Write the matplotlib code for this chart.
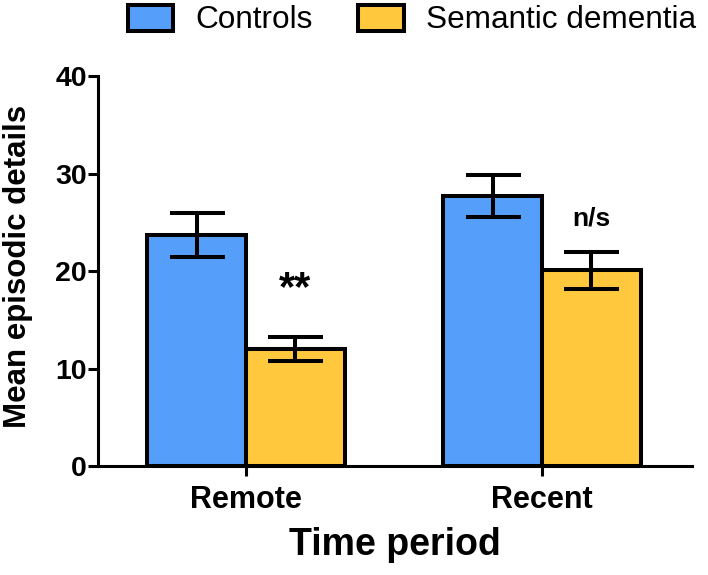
import numpy as np
import matplotlib
matplotlib.use("Agg")
import matplotlib.pyplot as plt
from matplotlib.patches import Patch

# ---------- Data ----------
periods = ["Remote", "Recent"]
controls_mean = [23.7, 27.7]
controls_sem = [2.3, 2.2]
sd_mean = [12.0, 20.1]
sd_sem = [1.2, 1.9]
sig_labels = ["**", "n/s"]
sig_y = [17.0, 24.7]

blue = "#559ffa"
yellow = "#ffc83d"

plt.rcParams["font.family"] = ["Liberation Sans", "DejaVu Sans"]

# ---------- Figure ----------
fig = plt.figure(figsize=(7.08, 5.75), dpi=100)
ax = fig.add_axes([0.1384, 0.1896, 0.839, 0.678])

x = np.arange(len(periods))
w = 0.333

ax.bar(x - w / 2, controls_mean, w, color=blue, edgecolor="black", linewidth=2.9, zorder=2)
ax.bar(x + w / 2, sd_mean, w, color=yellow, edgecolor="black", linewidth=2.9, zorder=2)
ax.errorbar(x - w / 2, controls_mean, yerr=controls_sem, fmt="none", ecolor="black",
            elinewidth=2.9, capsize=19.8, capthick=2.9, zorder=3)
ax.errorbar(x + w / 2, sd_mean, yerr=sd_sem, fmt="none", ecolor="black",
            elinewidth=2.9, capsize=19.8, capthick=2.9, zorder=3)

for i, lab in enumerate(sig_labels):
    ax.text(x[i] + w / 2, sig_y[i], lab, ha="center", va="baseline",
            fontsize=30 if lab == "**" else 19, fontweight="bold", zorder=4)

# ---------- Axes styling ----------
ax.set_xlim(-0.5, 1.507)
ax.set_ylim(0, 40)
ax.set_yticks([0, 10, 20, 30, 40])
ax.set_xticks(x)
ax.set_xticklabels(periods, fontsize=22, fontweight="bold")
for lab in ax.get_yticklabels():
    lab.set_fontsize(20.5)
    lab.set_fontweight("bold")

for s in ["top", "right"]:
    ax.spines[s].set_visible(False)
for s in ["left", "bottom"]:
    ax.spines[s].set_linewidth(2.2)

ax.tick_params(axis="y", length=7, width=2.2, pad=1)
ax.tick_params(axis="x", length=7, width=2.2, pad=7)

ax.set_xlabel("Time period", fontsize=27, fontweight="bold", labelpad=8)
fig.text(18 / 708, 1 - 266 / 575, "Mean episodic details", rotation=90,
         ha="center", va="center", fontsize=22.5, fontweight="bold")

# ---------- Legend ----------
handles = [Patch(facecolor=blue, edgecolor="black", linewidth=2.9),
           Patch(facecolor=yellow, edgecolor="black", linewidth=2.9)]
fig.legend(handles, ["Controls", "Semantic dementia"], loc="center",
           bbox_to_anchor=(412 / 708, 1 - 20 / 575), ncol=2, frameon=False,
           fontsize=22.7, handlelength=1.45, handleheight=0.9,
           handletextpad=0.7, columnspacing=1.45, borderpad=0)

fig.savefig("out.png", dpi=100)
